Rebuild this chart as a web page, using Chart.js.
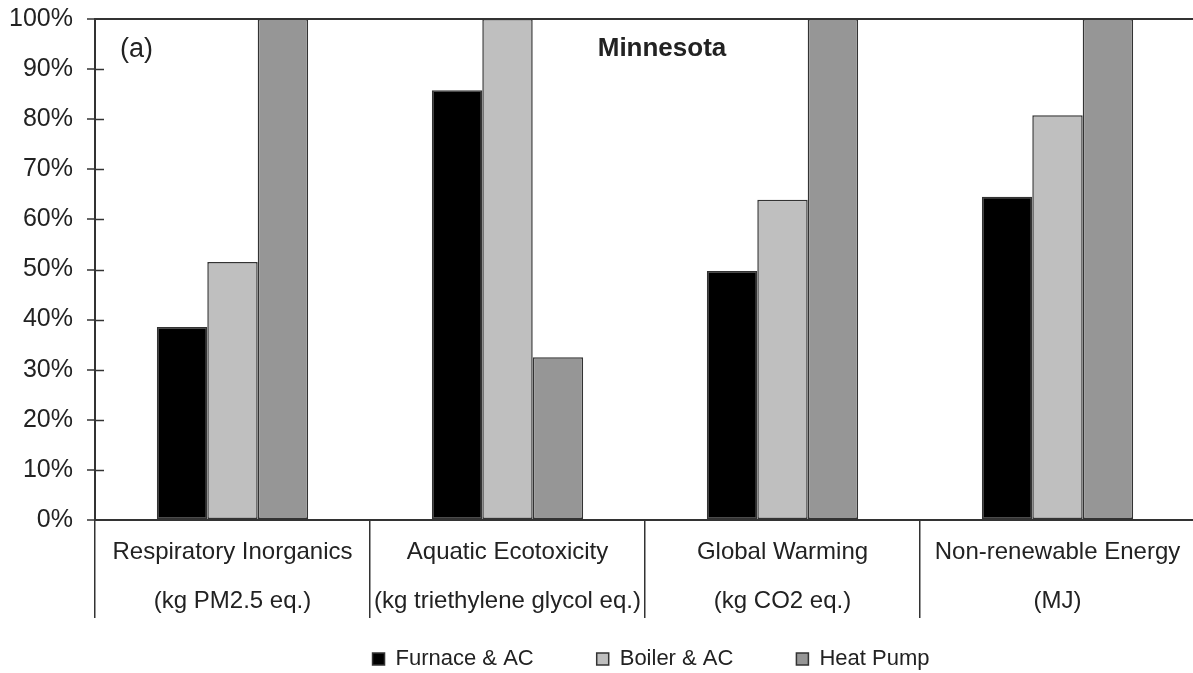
<!DOCTYPE html>
<html>
<head>
<meta charset="utf-8">
<script src="https://cdn.jsdelivr.net/npm/chart.js@4.4.1/dist/chart.umd.min.js"></script>
<style>
  html, body { margin: 0; padding: 0; background: #ffffff; overflow: hidden; }
  #wrap { position: relative; width: 1197px; height: 673px; }
</style>
</head>
<body>
<div id="wrap"><canvas id="c" width="1197" height="673"></canvas></div>
<script>
const categories = [
  ['Respiratory Inorganics', '(kg PM2.5 eq.)'],
  ['Aquatic Ecotoxicity', '(kg triethylene glycol eq.)'],
  ['Global Warming', '(kg CO2 eq.)'],
  ['Non-renewable Energy', '(MJ)']
];
const seriesNames = ['Furnace & AC', 'Boiler & AC', 'Heat Pump'];
const furnaceAC = [38.5, 85.8, 49.7, 64.5];
const boilerAC = [51.5, 100, 63.9, 80.8];
const heatPump = [100, 32.5, 100, 100];
const yTickValues = [0, 10, 20, 30, 40, 50, 60, 70, 80, 90, 100];
const panelLabel = '(a)';
const panelTitle = 'Minnesota';

const FONT = "'Liberation Sans', Arial, Helvetica, sans-serif";
const INK = '#222222';
const LINE = '#333333';

// extends the legend box upward so its row sits in the band under the category labels
const legendNudge = {
  id: 'legendNudge',
  afterLayout(chart) {
    const lg = chart.legend;
    if (!lg) return;
    lg.top -= 45;
    lg.height = lg.bottom - lg.top;
    lg.left += 6; lg.right += 6;
  }
};

const overlayText = {
  id: 'overlayText',
  afterDraw(chart) {
    const { ctx, chartArea, scales } = chart;
    const y = scales.y;
    ctx.save();
    ctx.strokeStyle = LINE;
    ctx.lineWidth = 1.5;
    yTickValues.forEach(v => {
      if (v === 0 || v === 100) return;
      const py = Math.round(y.getPixelForValue(v)) + 0.5;
      ctx.beginPath();
      ctx.moveTo(chartArea.left, py);
      ctx.lineTo(chartArea.left + 9, py);
      ctx.stroke();
    });
    ctx.fillStyle = INK;
    ctx.textBaseline = 'middle';
    ctx.textAlign = 'left';
    ctx.font = '27px ' + FONT;
    ctx.fillText(panelLabel, chartArea.left + 25, y.getPixelForValue(94));
    ctx.textAlign = 'center';
    ctx.font = 'bold 26px ' + FONT;
    ctx.fillText(panelTitle, chartArea.left + 567, y.getPixelForValue(94));
    ctx.restore();
  }
};

const ds = (label, data, color) => ({
  label, data,
  backgroundColor: color,
  borderColor: LINE,
  borderWidth: 1.5,
  borderSkipped: false,
  categoryPercentage: 0.55,
  barPercentage: 1.0
});

new Chart(document.getElementById('c'), {
  type: 'bar',
  data: {
    labels: categories,
    datasets: [
      ds(seriesNames[0], furnaceAC, '#000000'),
      ds(seriesNames[1], boilerAC, '#bfbfbf'),
      ds(seriesNames[2], heatPump, '#969696')
    ]
  },
  options: {
    responsive: false,
    animation: false,
    layout: { padding: { top: 19, right: 2, left: 0, bottom: 0 } },
    plugins: {
      tooltip: { enabled: false },
      title: { display: false },
      legend: {
        display: true,
        position: 'bottom',
        fullSize: false,
        maxHeight: 43,
        labels: {
          boxWidth: 12,
          boxHeight: 12,
          padding: 63,
          color: INK,
          font: { family: FONT, size: 22 }
        }
      }
    },
    scales: {
      x: {
        type: 'category',
        offset: true,
        afterFit(scale) { scale.height = 110; },
        grid: {
          offset: true,
          drawOnChartArea: false,
          drawTicks: true,
          tickLength: 98,
          color: LINE,
          tickColor: LINE,
          lineWidth: 1.5
        },
        border: { display: true, color: LINE, width: 2 },
        ticks: {
          color: INK,
          padding: -90,
          maxRotation: 0,
          autoSkip: false,
          font: { family: FONT, size: 24, lineHeight: 2.04 }
        }
      },
      y: {
        min: 0,
        max: 100,
        afterFit(scale) { scale.width = 95; },
        afterBuildTicks(scale) { scale.ticks = yTickValues.map(v => ({ value: v })); },
        grid: {
          drawOnChartArea: true,
          color: (c) => (c.tick && c.tick.value === 100 ? LINE : 'rgba(0,0,0,0)'),
          lineWidth: 2,
          tickColor: LINE,
          tickWidth: 1.5,
          tickLength: 8
        },
        border: { display: true, color: LINE, width: 2 },
        ticks: {
          color: INK,
          padding: 14,
          font: { family: FONT, size: 25, lineHeight: 0.2 },
          callback: (v) => v + '%'
        }
      }
    }
  },
  plugins: [legendNudge, overlayText]
});
</script>
</body>
</html>
